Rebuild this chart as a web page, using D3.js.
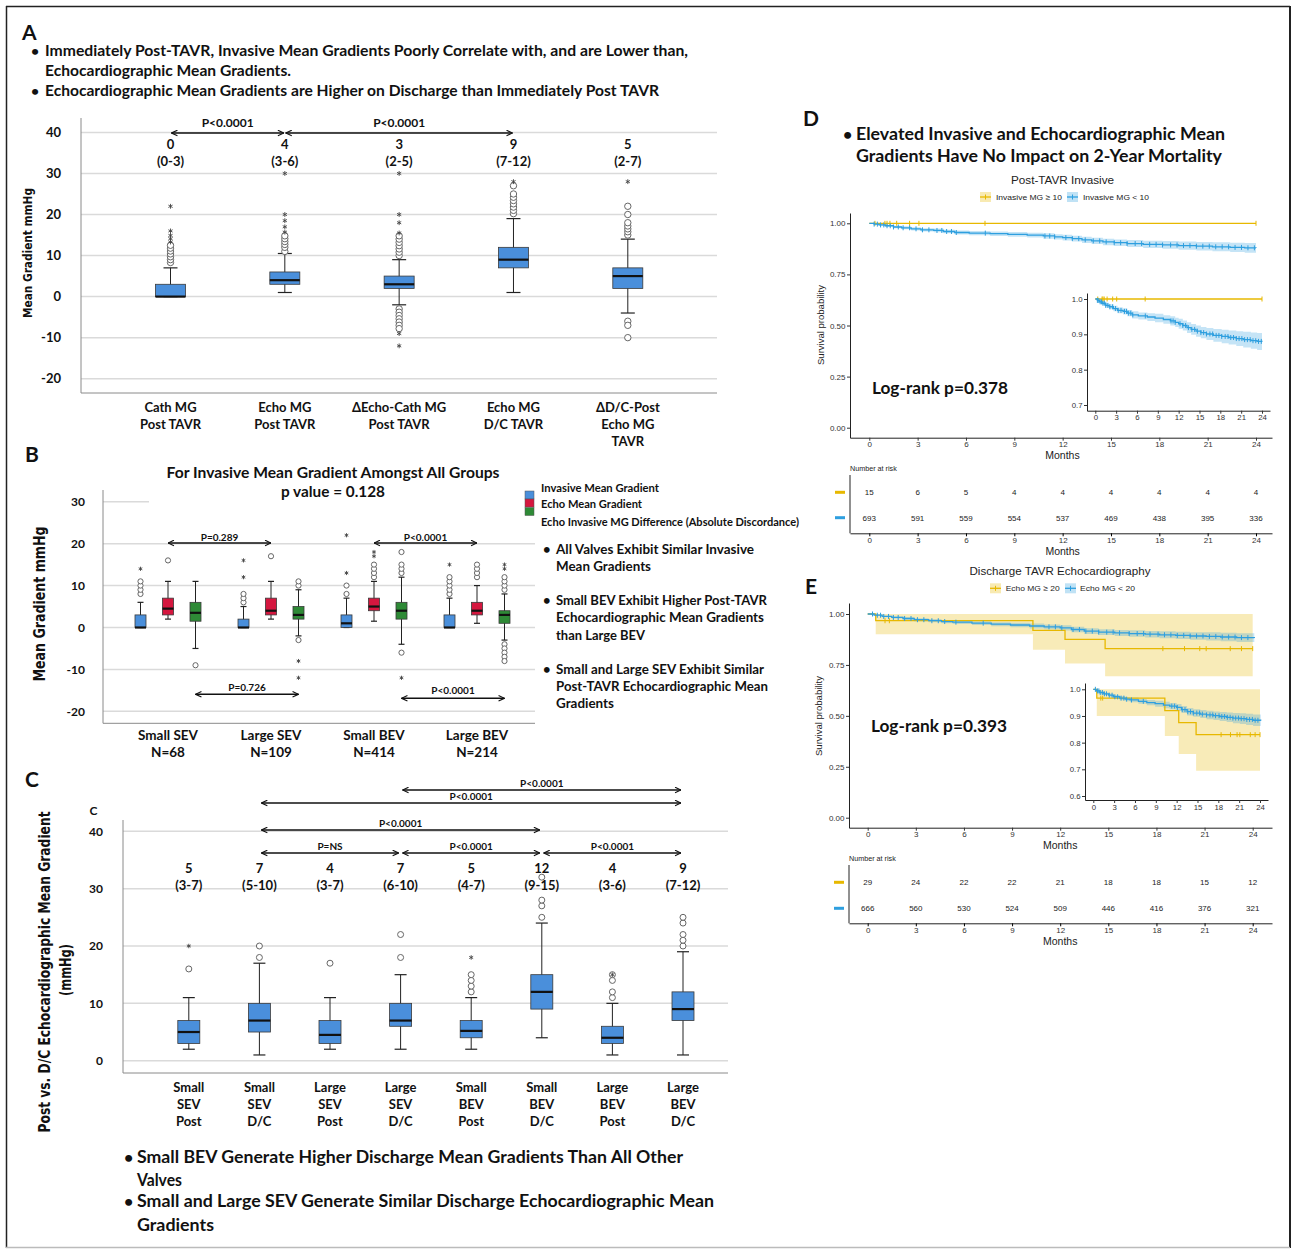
<!DOCTYPE html>
<html>
<head>
<meta charset="utf-8">
<script src="https://cdn.jsdelivr.net/npm/d3@7"></script>
<style>
  body { margin: 0; background: #fff; }
</style>
</head>
<body>
<svg id="fig" width="1292" height="1249"></svg>
<script>
// ---------- panel A : mean gradients (mmHg) ----------
const aCats = ["Cath MG Post TAVR", "Echo MG Post TAVR", "ΔEcho-Cath MG Post TAVR", "Echo MG D/C TAVR", "ΔD/C-Post Echo MG TAVR"];
const aLabelLines = [["Cath MG", "Post TAVR"], ["Echo MG", "Post TAVR"], ["ΔEcho-Cath MG", "Post TAVR"], ["Echo MG", "D/C TAVR"], ["ΔD/C-Post", "Echo MG", "TAVR"]];
const aMin = [0, 1, -2, 1, -4];
const aQ1 = [0, 3, 2, 7, 2];
const aMed = [0, 4, 3, 9, 5];
const aQ3 = [3, 6, 5, 12, 7];
const aMax = [7, 10.5, 9, 19, 14];
const aOut = [[8.3, 9, 9.7, 10.4, 11.1, 11.8, 12.5], [11, 12, 12.7, 13.4, 14.1, 14.8], [10, 10.8, 11.6, 12.4, 13.2, 14, 14.8, -3, -3.8, -4.6, -5.4, -6.2, -7, -7.8], [20.2, 21, 21.8, 22.6, 23.4, 24.2, 25, 27], [15, 15.8, 16.5, 17.2, 18, 20, 22, -6, -7, -10]];
const aExt = [[13.3, 14.1, 14.9, 16, 22], [15.7, 17, 18.5, 20, 30], [15.5, 18, 20, 30, -9, -12], [28], [28]];
const aMedText = ["0", "4", "3", "9", "5"];
const aIqrText = ["(0-3)", "(3-6)", "(2-5)", "(7-12)", "(2-7)"];
const aTicks = [-20, -10, 0, 10, 20, 30, 40];
const aCompare = [[0, 1, "P<0.0001"], [1, 3, "P<0.0001"]];

// ---------- panel B : by valve group ----------
const bGroups = ["Small SEV", "Large SEV", "Small BEV", "Large BEV"];
const bGroupN = ["N=68", "N=109", "N=414", "N=214"];
const bSeries = ["Invasive Mean Gradient", "Echo Mean Gradient", "Echo Invasive MG Difference (Absolute Discordance)"];
const bMin = [[0, 2, -5], [0, 2, -2], [0, 1.5, -4], [0, 1, -3]];
const bQ1 = [[0, 3, 1.5], [0, 3, 2], [0, 4, 2], [0, 3, 1]];
const bMed = [[0, 4.5, 3.5], [0, 4, 3], [1, 5, 4], [0, 4, 3]];
const bQ3 = [[3, 7, 6], [2, 7, 5], [3, 7, 6], [3, 6, 4]];
const bMax = [[6, 11, 11], [5, 11, 9], [7, 11, 12], [7, 10, 8]];
const bOut = [
  [[8, 9, 10, 11], [16], [-9]],
  [[6, 7, 8], [17], [10, 11, -3]],
  [[8, 10], [12, 13, 14, 15], [13, 14, 15, 18, -6]],
  [[8, 9, 10, 11, 12], [12, 13, 14, 15], [9, 10, 11, 12, -4, -5, -6, -7, -8]]
];
const bExt = [
  [[14], [], []],
  [[12, 16], [], [-8, -12]],
  [[13, 22], [17, 18], [-12]],
  [[15], [], [14, 15]]
];
const bTicks = [-20, -10, 0, 10, 20, 30];
const bCompare = [[0, 1, 1, "P=0.289"], [2, 3, 1, "P<0.0001"], [0, 1, 2, "P=0.726"], [2, 3, 2, "P<0.0001"]];

// ---------- panel C : post vs discharge echo ----------
const cCats = ["Small SEV Post", "Small SEV D/C", "Large SEV Post", "Large SEV D/C", "Small BEV Post", "Small BEV D/C", "Large BEV Post", "Large BEV D/C"];
const cLabelLines = [["Small", "SEV", "Post"], ["Small", "SEV", "D/C"], ["Large", "SEV", "Post"], ["Large", "SEV", "D/C"], ["Small", "BEV", "Post"], ["Small", "BEV", "D/C"], ["Large", "BEV", "Post"], ["Large", "BEV", "D/C"]];
const cMin = [2, 1, 2, 2, 2, 4, 1, 1];
const cQ1 = [3, 5, 3, 6, 4, 9, 3, 7];
const cMed = [5, 7, 4.5, 7, 5.2, 12, 4, 9];
const cQ3 = [7, 10, 7, 10, 7, 15, 6, 12];
const cMax = [11, 17, 11, 15, 11, 24, 10, 19];
const cOut = [[16], [18, 20], [17], [18, 22], [12, 13, 14, 15], [25, 27, 28, 32], [11, 12, 14, 15], [20, 21, 22, 24, 25]];
const cExt = [[20], [], [], [], [18], [], [15], []];
const cMedText = ["5", "7", "4", "7", "5", "12", "4", "9"];
const cIqrText = ["(3-7)", "(5-10)", "(3-7)", "(6-10)", "(4-7)", "(9-15)", "(3-6)", "(7-12)"];
const cTicks = [0, 10, 20, 30, 40];
const cCompare = [[3, 7, "P<0.0001", 0], [1, 7, "P<0.0001", 1], [1, 5, "P<0.0001", 2], [1, 3, "P=NS", 3], [3, 5, "P<0.0001", 3], [5, 7, "P<0.0001", 3]];

// ---------- panels D/E : Kaplan-Meier ----------
const kmTicks = [0, 3, 6, 9, 12, 15, 18, 21, 24];
const dYelT = [0, 24];
const dYelS = [1, 1];
const dYelCens = [0.35, 0.97, 1.1, 1.28, 1.7, 2.5, 3.08, 7.18, 24];
const dBlueT = [0, 0.3, 0.6, 1.0, 1.5, 2.0, 2.6, 3.2, 4.0, 4.6, 5.3, 6.2, 7.5, 8.6, 9.8, 10.8, 11.5, 12.0, 12.6, 13.2, 13.8, 14.5, 15.2, 16.0, 17.0, 18.2, 19.2, 20.3, 21.3, 22.4, 23.3, 24.0];
const dBlueS = [1.0, 0.996, 0.992, 0.988, 0.982, 0.978, 0.973, 0.968, 0.965, 0.960, 0.955, 0.952, 0.949, 0.946, 0.942, 0.938, 0.934, 0.930, 0.925, 0.919, 0.914, 0.909, 0.905, 0.901, 0.897, 0.894, 0.891, 0.888, 0.885, 0.882, 0.880, 0.879];
const dBlueHi = [1.0, 0.999, 0.996, 0.993, 0.988, 0.985, 0.981, 0.976, 0.974, 0.969, 0.965, 0.962, 0.960, 0.958, 0.954, 0.951, 0.947, 0.944, 0.939, 0.934, 0.929, 0.925, 0.921, 0.918, 0.915, 0.913, 0.911, 0.909, 0.907, 0.905, 0.904, 0.904];
const dBlueLo = [1.0, 0.993, 0.988, 0.983, 0.976, 0.971, 0.965, 0.960, 0.956, 0.951, 0.945, 0.942, 0.938, 0.934, 0.930, 0.925, 0.921, 0.916, 0.911, 0.904, 0.899, 0.893, 0.889, 0.884, 0.879, 0.875, 0.871, 0.867, 0.863, 0.859, 0.856, 0.854];
const dBlueCens = [0.3, 0.5, 0.7, 0.9, 1.1, 1.3, 1.5, 1.8, 2.1, 2.5, 2.9, 3.3, 3.7, 4.2, 4.5, 4.8, 5.1, 5.4, 7.2, 10.9, 11.2, 11.5, 12.2, 12.6, 13.0, 13.4, 13.9, 14.3, 14.7, 15.2, 15.6, 16.0, 16.5, 16.9, 17.4, 17.8, 18.2, 18.7, 19.1, 19.5, 19.9, 20.3, 20.7, 21.1, 21.5, 21.9, 22.3, 22.7, 23.1, 23.5, 23.9];
const dRiskHigh = [15, 6, 5, 4, 4, 4, 4, 4, 4];
const dRiskLow = [693, 591, 559, 554, 537, 469, 438, 395, 336];

const eYelT = [0, 0.5, 10.3, 12.3, 14.8, 24.0];
const eYelS = [1.0, 0.967, 0.920, 0.875, 0.830, 0.830];
const eYelHi = [1, 1, 1, 1, 1, 1];
const eYelLo = [1.0, 0.900, 0.825, 0.757, 0.695, 0.695];
const eYelCens = [1.08, 1.35, 18.4, 19.75, 20.7, 21.1, 22.6, 23.3, 24.0];
const eBlueT = [0, 0.4, 0.9, 1.5, 2.2, 2.9, 3.8, 4.6, 5.3, 6.5, 7.7, 8.9, 10.1, 11.0, 12.0, 12.7, 13.5, 14.4, 15.4, 16.3, 17.3, 18.2, 19.2, 20.1, 21.1, 22.0, 23.0, 24.1];
const eBlueS = [1.0, 0.994, 0.988, 0.983, 0.978, 0.972, 0.967, 0.963, 0.960, 0.955, 0.950, 0.946, 0.941, 0.937, 0.932, 0.924, 0.916, 0.911, 0.907, 0.904, 0.901, 0.898, 0.895, 0.892, 0.890, 0.887, 0.884, 0.882];
const eBlueHi = [1.0, 0.997, 0.992, 0.988, 0.984, 0.979, 0.975, 0.971, 0.969, 0.964, 0.960, 0.957, 0.953, 0.949, 0.945, 0.937, 0.930, 0.925, 0.922, 0.920, 0.917, 0.915, 0.913, 0.911, 0.910, 0.908, 0.906, 0.905];
const eBlueLo = [1.0, 0.991, 0.984, 0.978, 0.972, 0.965, 0.959, 0.955, 0.951, 0.946, 0.940, 0.935, 0.929, 0.925, 0.919, 0.911, 0.902, 0.897, 0.892, 0.888, 0.885, 0.881, 0.877, 0.873, 0.870, 0.866, 0.862, 0.859];
const eBlueCens = [0.3, 0.6, 0.8, 1.0, 1.3, 1.6, 1.9, 2.3, 2.7, 3.1, 3.5, 4.0, 4.4, 4.8, 5.5, 7.2, 11.3, 11.7, 12.1, 12.8, 13.2, 13.6, 14.0, 14.4, 14.9, 15.3, 15.7, 16.3, 16.8, 17.2, 17.6, 18.1, 18.5, 18.9, 19.3, 19.7, 20.1, 20.5, 20.9, 21.3, 21.7, 22.1, 22.5, 22.9, 23.3, 23.7];
const eRiskHigh = [29, 24, 22, 22, 21, 18, 18, 15, 12];
const eRiskLow = [666, 560, 530, 524, 509, 446, 416, 376, 321];

// ---------- helpers ----------
const BOXBLUE = "#4A8FDB", BOXRED = "#D5173F", BOXGREEN = "#2E8A36";
const KMYEL = "#E7B800", KMBLUE = "#2E9FDF";
const svg = d3.select("#fig");

// linear scale through two reference points, clipped to the drawn axis extent
function fitScale(v0, p0, v1, p1, lo, hi) {
  const s = d3.scaleLinear().domain([v0, v1]).range([p0, p1]);
  return d3.scaleLinear().domain([s.invert(lo), s.invert(hi)]).range([lo, hi]);
}

function txt(g, x, y, s, o = {}) {
  const t = g.append("text").attr("x", x).attr("y", y).text(s)
    .attr("font-family", o.ff || "Lato").attr("font-weight", o.fw || 700)
    .attr("font-size", o.fs || 13).attr("fill", o.fill || "#111")
    .attr("text-anchor", o.anchor || "start");
  if (o.len) t.attr("textLength", o.len).attr("lengthAdjust", "spacingAndGlyphs");
  if (o.rot) t.attr("transform", `rotate(-90,${x},${y})`);
  return t;
}

svg.append("defs").append("marker")
  .attr("id", "arr").attr("viewBox", "0 0 10 10").attr("refX", 9.5).attr("refY", 5)
  .attr("markerWidth", 7).attr("markerHeight", 7).attr("markerUnits", "userSpaceOnUse")
  .attr("orient", "auto-start-reverse")
  .append("path").attr("d", "M1,1 L9.5,5 L1,9").attr("fill", "none").attr("stroke", "#111").attr("stroke-width", 1.6);

function arrow(g, x1, x2, y, w) {
  g.append("line").attr("x1", x1).attr("x2", x2).attr("y1", y).attr("y2", y)
    .attr("stroke", "#111").attr("stroke-width", w || 1.5)
    .attr("marker-start", "url(#arr)").attr("marker-end", "url(#arr)");
}

function drawBox(g, cx, bw, cw, y, st, fill, r, sym) {
  const [mn, q1, md, q3, mx, outs, exts] = st;
  const k = g.append("g");
  k.append("line").attr("x1", cx).attr("x2", cx).attr("y1", y(mn)).attr("y2", y(mx)).attr("stroke", "#222");
  [mn, mx].forEach(v => k.append("line").attr("x1", cx - cw / 2).attr("x2", cx + cw / 2)
    .attr("y1", y(v)).attr("y2", y(v)).attr("stroke", "#222").attr("stroke-width", 1.2));
  k.append("rect").attr("x", cx - bw / 2).attr("width", bw).attr("y", y(q3))
    .attr("height", Math.max(0.8, y(q1) - y(q3))).attr("fill", fill).attr("stroke", "#3a3a3a").attr("stroke-width", 0.8);
  k.append("line").attr("x1", cx - bw / 2).attr("x2", cx + bw / 2).attr("y1", y(md)).attr("y2", y(md))
    .attr("stroke", "#111").attr("stroke-width", 2.2);
  k.selectAll("circle").data(outs).join("circle").attr("cx", cx).attr("cy", d => y(d)).attr("r", r)
    .attr("fill", "#fff").attr("stroke", "#666").attr("stroke-width", 1);
  k.selectAll("path.ext").data(exts).join("path").attr("class", "ext")
    .attr("transform", d => `translate(${cx},${y(d)})`)
    .attr("d", d3.symbol(d3.symbolAsterisk, sym)).attr("fill", "none").attr("stroke", "#444").attr("stroke-width", 0.9);
}

function boxFrame(g, y, ticks, x0, x1, yTop, yBot, pad, fs, gridEnd) {
  g.selectAll("line.grid").data(ticks).join("line").attr("class", "grid")
    .attr("x1", x0).attr("x2", d => gridEnd ? gridEnd(d) : x1).attr("y1", d => y(d)).attr("y2", d => y(d))
    .attr("stroke", "#dadada").attr("stroke-width", 1.5);
  const ax = g.append("g").attr("transform", `translate(${x0},0)`)
    .call(d3.axisLeft(y).tickValues(ticks).tickSize(0).tickPadding(pad).tickFormat(d => String(d)));
  ax.select(".domain").remove();
  ax.selectAll("text").attr("font-family", "Lato").attr("font-weight", 700).attr("font-size", fs).attr("fill", "#111");
  g.append("line").attr("x1", x0).attr("x2", x0).attr("y1", yTop).attr("y2", yBot).attr("stroke", "#8a8a8a");
  g.append("line").attr("x1", x0).attr("x2", x1).attr("y1", yBot).attr("y2", yBot).attr("stroke", "#8a8a8a");
}

// ---------- frame ----------
svg.append("line").attr("x1", 6).attr("x2", 1290).attr("y1", 6.5).attr("y2", 6.5).attr("stroke", "#222").attr("stroke-width", 1.5);
svg.append("line").attr("x1", 6.5).attr("x2", 6.5).attr("y1", 6).attr("y2", 1248).attr("stroke", "#222").attr("stroke-width", 1.5);
svg.append("line").attr("x1", 1290).attr("x2", 1290).attr("y1", 6).attr("y2", 1248).attr("stroke", "#222").attr("stroke-width", 2);
svg.append("line").attr("x1", 6).attr("x2", 1290).attr("y1", 1247.5).attr("y2", 1247.5).attr("stroke", "#bbb").attr("stroke-width", 1.5);

// ---------- panel A ----------
const gA = svg.append("g");
txt(gA, 22, 40, "A", { fs: 21 });
txt(gA, 31, 56, "•", { fs: 14 });
txt(gA, 45, 56, "Immediately Post-TAVR, Invasive Mean Gradients Poorly Correlate with, and are Lower than,", { fs: 14.5, len: 643 });
txt(gA, 45, 76, "Echocardiographic Mean Gradients.", { fs: 14.5, len: 246 });
txt(gA, 31, 96, "•", { fs: 14 });
txt(gA, 45, 96, "Echocardiographic Mean Gradients are Higher on Discharge than Immediately Post TAVR", { fs: 14.5, len: 614 });

const aY = fitScale(0, 296.6, 40, 132.4, 393, 118);
const aX = d3.scalePoint().domain(aCats).range([170.5, 627.8]);
boxFrame(gA, aY, aTicks, 81, 717, 118, 393, 20, 13);
txt(gA, 32, 253, "Mean Gradient mmHg", { ff: "DejaVu Sans", fs: 12, anchor: "middle", rot: true, len: 130 });
aCats.forEach((c, i) => {
  drawBox(gA, aX(c), 30, 14, aY, [aMin[i], aQ1[i], aMed[i], aQ3[i], aMax[i], aOut[i], aExt[i]], BOXBLUE, 3.2, 16);
  txt(gA, aX(c), 149, aMedText[i], { fs: 13, anchor: "middle" });
  txt(gA, aX(c), 166, aIqrText[i], { fs: 13, anchor: "middle" });
  aLabelLines[i].forEach((s, j) => txt(gA, aX(c), 411.5 + j * 17, s, { fs: 13, anchor: "middle" }));
});
aCompare.forEach(([i, j, lab]) => {
  const x1 = aX(aCats[i]), x2 = aX(aCats[j]);
  arrow(gA, x1 + 1, x2 - 1, 133);
  txt(gA, (x1 + x2) / 2, 127, lab, { fs: 12, anchor: "middle" });
});

// ---------- panel B ----------
const gB = svg.append("g");
txt(gB, 25, 462, "B", { fs: 21 });
txt(gB, 333, 478, "For Invasive Mean Gradient Amongst All Groups", { fs: 15, anchor: "middle", len: 333 });
txt(gB, 333, 497, "p value = 0.128", { fs: 15, anchor: "middle", len: 104 });
const bY = fitScale(0, 627.5, 30, 501.7, 723.3, 490);
const bX = d3.scalePoint().domain(bGroups).range([168, 477]);
const bOff = d3.scalePoint().domain(bSeries).range([-27.5, 27.5]);
const bColors = [BOXBLUE, BOXRED, BOXGREEN];
boxFrame(gB, bY, bTicks, 103, 535, 490, 723.3, 18, 12, d => d === 30 ? 149 : 535);
txt(gB, 45, 604, "Mean Gradient mmHg", { ff: "DejaVu Sans", fs: 15, anchor: "middle", rot: true, len: 155 });
bGroups.forEach((gname, gi) => {
  bSeries.forEach((sname, si) => {
    drawBox(gB, bX(gname) + bOff(sname), 11, 6, bY,
      [bMin[gi][si], bQ1[gi][si], bMed[gi][si], bQ3[gi][si], bMax[gi][si], bOut[gi][si], bExt[gi][si]],
      bColors[si], 2.6, 12);
  });
  txt(gB, bX(gname), 740, gname, { fs: 13.5, anchor: "middle" });
  txt(gB, bX(gname), 757, bGroupN[gi], { fs: 13.5, anchor: "middle" });
});
const bArrowY = [543, 543, 694.3, 698.3];
const bTextY = [540.5, 540.5, 690.5, 693.5];
bCompare.forEach(([g1, g2, si, lab], k) => {
  const x1 = bX(bGroups[g1]) + bOff(bSeries[si]), x2 = bX(bGroups[g2]) + bOff(bSeries[si]);
  arrow(gB, x1, x2, bArrowY[k], 1.4);
  txt(gB, (x1 + x2) / 2, bTextY[k], lab, { fs: 10, anchor: "middle" });
});
// legend
const bLegY = [491, 499, 507.5];
const bLegTextY = [492, 508, 526];
const bLegLen = [118, 101, 258];
bSeries.forEach((s, i) => {
  gB.append("rect").attr("x", 525).attr("y", bLegY[i]).attr("width", 9).attr("height", 8)
    .attr("fill", bColors[i]).attr("stroke", "#555").attr("stroke-width", 0.5);
  txt(gB, 541, bLegTextY[i], s, { fs: 11, len: bLegLen[i] });
});
const bBullets = [
  ["All Valves Exhibit Similar Invasive", "Mean Gradients"],
  ["Small BEV Exhibit Higher Post-TAVR", "Echocardiographic Mean Gradients", "than Large BEV"],
  ["Small and Large SEV Exhibit Similar", "Post-TAVR Echocardiographic Mean", "Gradients"]
];
const bBulletY = [[554, 571], [605, 622, 640], [674, 691, 708]];
const bBulletLen = [[198, 95], [211, 208, 89], [208, 212, 58]];
bBullets.forEach((lines, i) => {
  txt(gB, 543, bBulletY[i][0], "•", { fs: 13 });
  lines.forEach((s, j) => txt(gB, 556, bBulletY[i][j], s, { fs: 13, len: bBulletLen[i][j] }));
});

// ---------- panel C ----------
const gC = svg.append("g");
txt(gC, 25, 787, "C", { fs: 21 });
txt(gC, 93.5, 815, "C", { fs: 12, anchor: "middle" });
const cY = fitScale(0, 1060.7, 40, 831.3, 1073, 820);
const cX = d3.scalePoint().domain(cCats).range([188.8, 683]);
boxFrame(gC, cY, cTicks, 123, 728, 820, 1073, 20, 12);
txt(gC, 50, 972, "Post vs. D/C Echocardiographic Mean Gradient", { ff: "DejaVu Sans", fs: 15, anchor: "middle", rot: true, len: 321 });
txt(gC, 71, 970, "(mmHg)", { ff: "DejaVu Sans", fs: 15, anchor: "middle", rot: true, len: 52 });
cCats.forEach((c, i) => {
  drawBox(gC, cX(c), 22, 12, cY, [cMin[i], cQ1[i], cMed[i], cQ3[i], cMax[i], cOut[i], cExt[i]], BOXBLUE, 3, 14);
  txt(gC, cX(c), 872.5, cMedText[i], { fs: 13, anchor: "middle" });
  txt(gC, cX(c), 889.5, cIqrText[i], { fs: 13, anchor: "middle" });
  cLabelLines[i].forEach((s, j) => txt(gC, cX(c), 1091.5 + j * 17, s, { fs: 13, anchor: "middle" }));
});
const cRowY = [790, 803, 830, 853];
cCompare.forEach(([i, j, lab, row]) => {
  const x1 = cX(cCats[i]), x2 = cX(cCats[j]);
  arrow(gC, x1 + 2, x2 - 2, cRowY[row], 1.4);
  txt(gC, (x1 + x2) / 2, cRowY[row] - 3.5, lab, { fs: 10, anchor: "middle" });
});
txt(gC, 124, 1163, "•", { fs: 16 });
txt(gC, 137, 1163, "Small BEV Generate Higher Discharge Mean Gradients Than All Other", { fs: 16.5, len: 546 });
txt(gC, 137, 1185.5, "Valves", { fs: 16.5, len: 45 });
txt(gC, 124, 1207, "•", { fs: 16 });
txt(gC, 137, 1207, "Small and Large SEV Generate Similar Discharge Echocardiographic Mean", { fs: 16.5, len: 577 });
txt(gC, 137, 1231, "Gradients", { fs: 16.5, len: 77 });

// ---------- KM helpers ----------
function stepAt(T, S, t) {
  let v = S[0];
  T.forEach((tt, i) => { if (tt <= t) v = S[i]; });
  return v;
}

function kmAxes(g, x, y, yTicks, yFmt, fs) {
  const gx = g.append("g").attr("transform", `translate(0,${y.range()[0]})`)
    .call(d3.axisBottom(x).tickValues(kmTicks).tickSize(3).tickSizeOuter(0).tickPadding(1));
  const gy = g.append("g").attr("transform", `translate(${x.range()[0]},0)`)
    .call(d3.axisLeft(y).tickValues(yTicks).tickFormat(d3.format(yFmt)).tickSize(3).tickSizeOuter(0).tickPadding(1.5));
  [gx, gy].forEach(a => {
    a.attr("font-family", "Liberation Sans").attr("font-size", fs);
    a.selectAll("text").attr("fill", "#333");
    a.select(".domain").attr("stroke", "#222").attr("stroke-width", 1);
    a.selectAll(".tick line").attr("stroke", "#333");
  });
}

function kmCurves(g, x, y, series) {
  const area = d3.area().x(d => x(d[0])).y0(d => y(d[1])).y1(d => y(d[2])).curve(d3.curveStepAfter);
  const line = d3.line().x(d => x(d[0])).y(d => y(d[1])).curve(d3.curveStepAfter);
  series.forEach(s => {
    if (s.lo) g.append("path").datum(s.T.map((t, i) => [t, s.lo[i], s.hi[i]]))
      .attr("d", area).attr("fill", s.color).attr("fill-opacity", 0.28);
  });
  series.forEach(s => {
    g.append("path").datum(s.T.map((t, i) => [t, s.S[i]])).attr("d", line)
      .attr("fill", "none").attr("stroke", s.color).attr("stroke-width", 1.3);
    g.selectAll(null).data(s.cens).join("line")
      .attr("x1", d => x(d)).attr("x2", d => x(d))
      .attr("y1", d => y(stepAt(s.T, s.S, d)) - 2.5).attr("y2", d => y(stepAt(s.T, s.S, d)) + 2.5)
      .attr("stroke", s.color).attr("stroke-width", 1);
  });
}

function kmLegend(g, cy, items) {
  items.forEach(it => {
    g.append("rect").attr("x", it.kx).attr("y", cy - 5).attr("width", 11).attr("height", 10)
      .attr("fill", it.color).attr("fill-opacity", 0.3);
    g.append("line").attr("x1", it.kx).attr("x2", it.kx + 11).attr("y1", cy).attr("y2", cy)
      .attr("stroke", it.color).attr("stroke-width", 1.3);
    g.append("line").attr("x1", it.kx + 5.5).attr("x2", it.kx + 5.5).attr("y1", cy - 2.5).attr("y2", cy + 2.5)
      .attr("stroke", it.color).attr("stroke-width", 1);
    txt(g, it.tx, cy + 2.8, it.label, { ff: "Liberation Sans", fw: 400, fs: 7.8, fill: "#222", len: it.len });
  });
}

function riskTable(g, x, yTop, yAxis, rows, rowY, monthsY, riskTitleY) {
  txt(g, x.range()[0], riskTitleY, "Number at risk", { ff: "Liberation Sans", fw: 400, fs: 7.2, fill: "#222" });
  rows.forEach((r, i) => {
    g.append("rect").attr("x", x.range()[0] - 15).attr("y", rowY[i] - 1.5).attr("width", 10).attr("height", 3).attr("fill", r.color);
    g.selectAll(null).data(r.vals).join("text")
      .attr("x", (d, k) => x(kmTicks[k])).attr("y", rowY[i] + 3)
      .attr("text-anchor", "middle").attr("font-family", "Liberation Sans").attr("font-size", 8).attr("fill", "#222")
      .text(d => d);
  });
  const gx = g.append("g").attr("transform", `translate(0,${yAxis})`)
    .call(d3.axisBottom(x).tickValues(kmTicks).tickSize(3).tickSizeOuter(0).tickPadding(1));
  gx.attr("font-family", "Liberation Sans").attr("font-size", 8);
  gx.selectAll("text").attr("fill", "#333");
  gx.select(".domain").attr("stroke", "#222");
  g.append("line").attr("x1", x.range()[0]).attr("x2", x.range()[0]).attr("y1", yTop).attr("y2", yAxis).attr("stroke", "#222");
  txt(g, (x(0) + x(24)) / 2, monthsY, "Months", { ff: "Liberation Sans", fw: 400, fs: 10.5, anchor: "middle", fill: "#222" });
}

// ---------- panel D ----------
const gD = svg.append("g");
txt(gD, 803, 126, "D", { fs: 21 });
txt(gD, 843, 140, "•", { fs: 16 });
txt(gD, 856, 140, "Elevated Invasive and Echocardiographic Mean", { fs: 16.5, len: 369 });
txt(gD, 856, 162, "Gradients Have No Impact on 2-Year Mortality", { fs: 16.5, len: 366 });
txt(gD, 1062.5, 183.5, "Post-TAVR Invasive", { ff: "Liberation Sans", fw: 400, fs: 10.5, anchor: "middle", fill: "#222", len: 103 });
kmLegend(gD, 197, [
  { kx: 980, tx: 996, label: "Invasive MG ≥ 10", color: KMYEL, len: 66 },
  { kx: 1067, tx: 1083, label: "Invasive MG < 10", color: KMBLUE, len: 66 }
]);
const dX = fitScale(0, 869.3, 24, 1256, 850, 1272);
const dY = fitScale(0, 427.7, 1, 223.3, 437.7, 213);
kmAxes(gD, dX, dY, [0, 0.25, 0.5, 0.75, 1], ".2f", 8);
const dSeries = [
  { T: dYelT, S: dYelS, cens: dYelCens, color: KMYEL },
  { T: dBlueT, S: dBlueS, lo: dBlueLo, hi: dBlueHi, cens: dBlueCens, color: KMBLUE }
];
kmCurves(gD, dX, dY, dSeries);
txt(gD, 1062.5, 459, "Months", { ff: "Liberation Sans", fw: 400, fs: 10.5, anchor: "middle", fill: "#222" });
txt(gD, 823.5, 325, "Survival probability", { ff: "Liberation Sans", fw: 400, fs: 9, anchor: "middle", rot: true, fill: "#222", len: 80 });
txt(gD, 872, 394, "Log-rank p=0.378", { fs: 17, len: 136 });
const dIX = fitScale(0, 1095.3, 24, 1262, 1087, 1270);
const dIY = fitScale(0.7, 405, 1, 299, 410.7, 293);
kmAxes(gD, dIX, dIY, [0.7, 0.8, 0.9, 1.0], ".1f", 7.8);
kmCurves(gD, dIX, dIY, dSeries);
riskTable(gD, dX, 475, 533.3,
  [{ vals: dRiskHigh, color: KMYEL }, { vals: dRiskLow, color: KMBLUE }],
  [492.3, 517.7], 555, 470.5);

// ---------- panel E ----------
const gE = svg.append("g");
txt(gE, 805, 594, "E", { fs: 21 });
txt(gE, 1060, 574.5, "Discharge TAVR Echocardiography", { ff: "Liberation Sans", fw: 400, fs: 10.5, anchor: "middle", fill: "#222", len: 181 });
kmLegend(gE, 588.3, [
  { kx: 990, tx: 1005.7, label: "Echo MG ≥ 20", color: KMYEL, len: 54 },
  { kx: 1065, tx: 1080, label: "Echo MG < 20", color: KMBLUE, len: 55 }
]);
const eX = fitScale(0, 867.7, 24, 1252.7, 849, 1272);
const eY = fitScale(0, 817.7, 1, 614, 827.7, 603);
kmAxes(gE, eX, eY, [0, 0.25, 0.5, 0.75, 1], ".2f", 8);
const eSeries = [
  { T: eYelT, S: eYelS, lo: eYelLo, hi: eYelHi, cens: eYelCens, color: KMYEL },
  { T: eBlueT, S: eBlueS, lo: eBlueLo, hi: eBlueHi, cens: eBlueCens, color: KMBLUE }
];
kmCurves(gE, eX, eY, eSeries);
txt(gE, 1060.2, 849, "Months", { ff: "Liberation Sans", fw: 400, fs: 10.5, anchor: "middle", fill: "#222" });
txt(gE, 822, 716, "Survival probability", { ff: "Liberation Sans", fw: 400, fs: 9, anchor: "middle", rot: true, fill: "#222", len: 80 });
txt(gE, 871, 731.5, "Log-rank p=0.393", { fs: 17, len: 136 });
const eIX = fitScale(0, 1093.3, 24, 1260, 1085, 1268);
const eIY = fitScale(0.6, 796, 1, 689.3, 800, 683);
kmAxes(gE, eIX, eIY, [0.6, 0.7, 0.8, 0.9, 1.0], ".1f", 7.8);
kmCurves(gE, eIX, eIY, eSeries);
riskTable(gE, eX, 865, 923.3,
  [{ vals: eRiskHigh, color: KMYEL }, { vals: eRiskLow, color: KMBLUE }],
  [882.3, 908.3], 945, 860.5);
</script>
</body>
</html>
